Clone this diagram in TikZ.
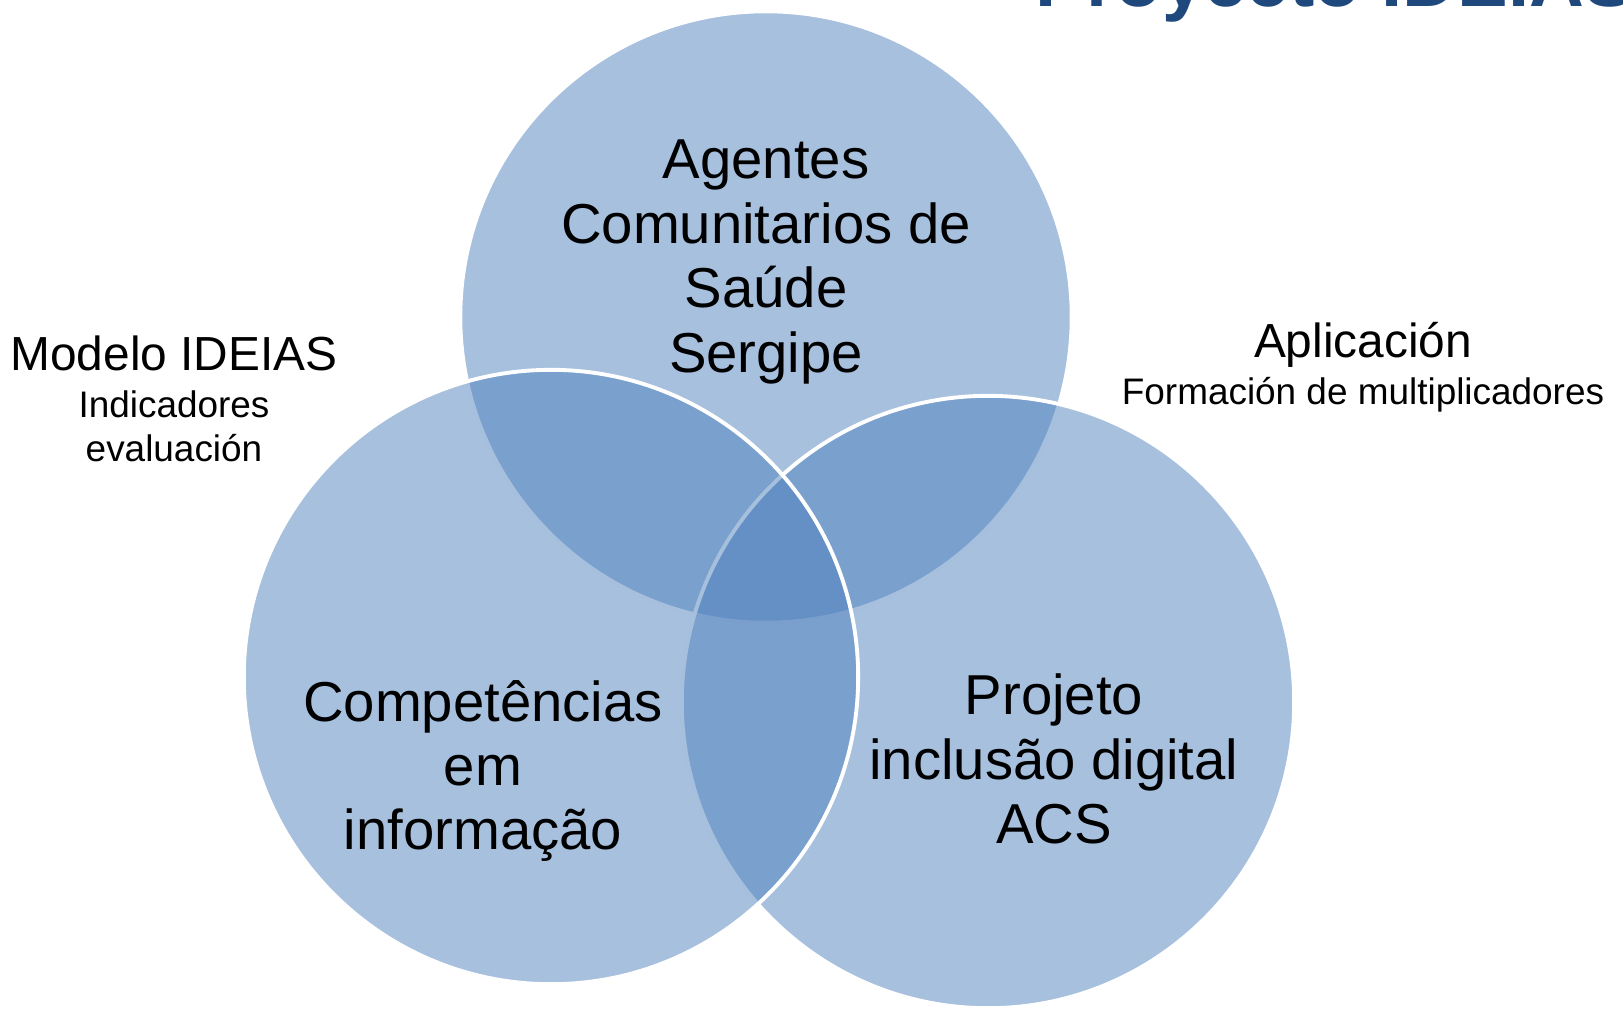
\documentclass[tikz,border=0pt]{standalone}
\usepackage{fontspec}
\setmainfont{Liberation Sans}
\usepackage{xcolor}
\usepackage{tikz}

\definecolor{vennblue}{HTML}{4F81BD}
\definecolor{titleblue}{HTML}{1F497D}

\tikzset{
  venn/.style={fill=vennblue, fill opacity=0.5, draw=white, line width=1.1pt},
  big/.style={align=center, font=\fontsize{16}{18.3}\selectfont},
  head/.style={align=center, font=\fontsize{13.6}{16}\selectfont},
  side/.style={align=center, font=\fontsize{10.5}{12.4}\selectfont},
  title/.style={font=\fontsize{21.6}{26}\selectfont\bfseries, text=titleblue}
}

\begin{document}
\begin{tikzpicture}[x=0.01cm, y=-0.01cm]
\useasboundingbox (0, 0) rectangle (1623, 1009);

\node[title, anchor=base west, inner sep=0pt] (titulo) at (1035, 7) {Proyecto IDEIAS};

\draw[venn] (766, 317) circle (3.055cm);
\draw[venn] (988, 702) circle (3.06cm);
\draw[venn] (551, 677) circle (3.07cm);


\node[big] (agentes) at (766, 262) {Agentes\\Comunitarios de\\Saúde\\Sergipe};
\node[big] (competencias) at (483, 771) {Competências\\em\\informação};
\node[big] (projeto) at (1054, 759) {Projeto\\inclusão digital\\ACS};

\node[head] (modelo) at (174, 353) {Modelo IDEIAS};
\node[side] (indicadores) at (174, 426) {Indicadores\\evaluación};

\node[head] (aplicacion) at (1363, 345) {Aplicación};
\node[side] (formacion) at (1363, 395) {Formación de multiplicadores};

\end{tikzpicture}
\end{document}
